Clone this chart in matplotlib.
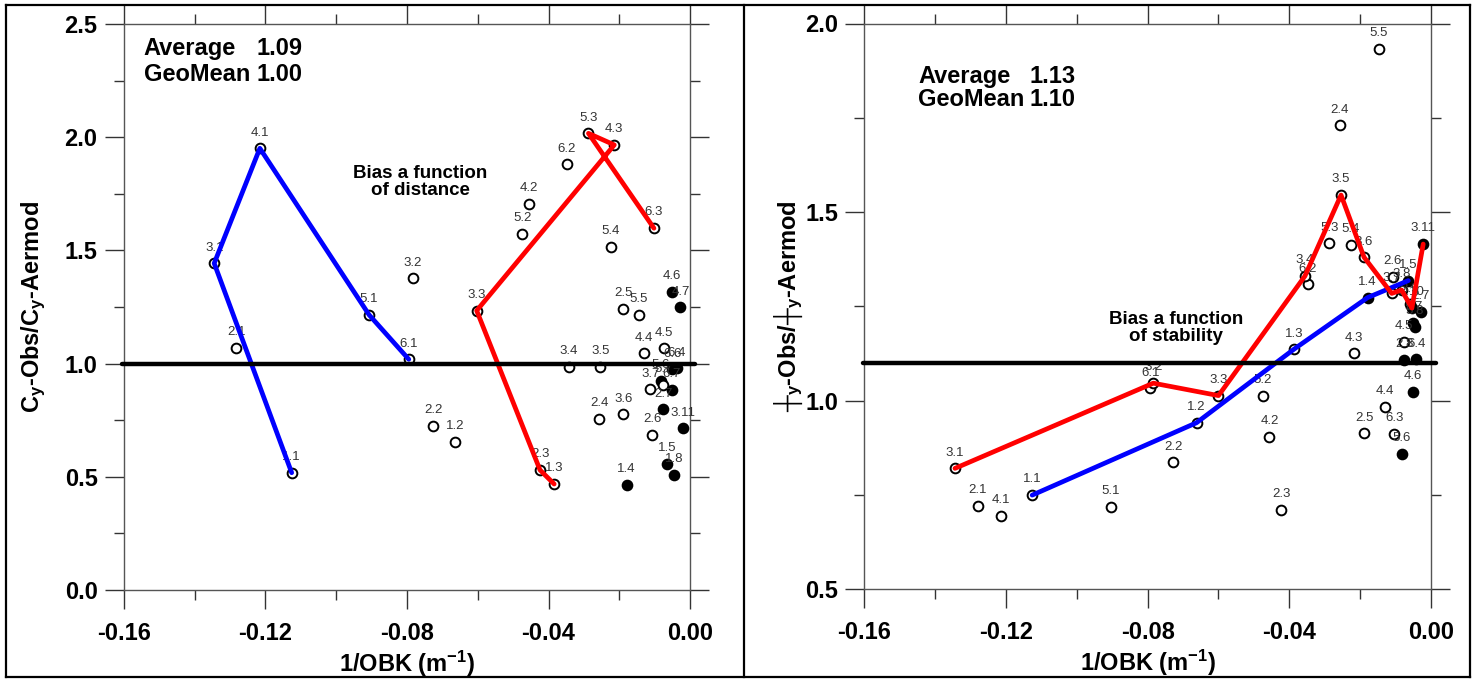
import matplotlib
matplotlib.use("Agg")
import matplotlib.pyplot as plt
from matplotlib.lines import Line2D
from matplotlib.ticker import MultipleLocator, FormatStrFormatter

plt.rcParams['font.family'] = ['Liberation Sans', 'DejaVu Sans']
plt.rcParams['axes.unicode_minus'] = False
plt.rcParams['mathtext.fontset'] = 'custom'
plt.rcParams['mathtext.rm'] = 'Liberation Sans:bold'
plt.rcParams['mathtext.it'] = 'Liberation Sans:bold'
plt.rcParams['mathtext.bf'] = 'Liberation Sans:bold'
plt.rcParams['mathtext.default'] = 'rm'
plt.rcParams['mathtext.fallback'] = 'stixsans'

# ---- distance panel (Cy ratio) ----
dist_ids = ["1.1", "2.1", "3.1", "4.1", "5.1", "6.1",
            "1.2", "2.2", "3.2", "4.2", "5.2", "6.2",
            "1.3", "2.3", "3.3", "4.3", "5.3", "6.3",
            "3.4", "5.4", "2.4", "3.5", "2.5", "5.5", "4.4", "4.5",
            "3.6", "2.6", "3.7", "5.6", "5.7", "6.7", "6.6", "6.4",
            "2.7", "3.11", "1.5", "1.8", "1.4", "4.6", "4.7"]
dist_x = [-0.1126, -0.1283, -0.1345, -0.1216, -0.0907, -0.0795,
          -0.0663, -0.0726, -0.0784, -0.0455, -0.0474, -0.0348,
          -0.0384, -0.0424, -0.0603, -0.0214, -0.0287, -0.0102,
          -0.0343, -0.0224, -0.0256, -0.0254, -0.0189, -0.0145, -0.0129, -0.0074,
          -0.0189, -0.0107, -0.0112, -0.0082, -0.0075, -0.0052, -0.0050, -0.0038,
          -0.0075, -0.0021, -0.0065, -0.0045, -0.0179, -0.0052, -0.0027]
dist_y = [0.518, 1.068, 1.443, 1.951, 1.215, 1.019,
          0.654, 0.724, 1.377, 1.706, 1.572, 1.880,
          0.468, 0.530, 1.234, 1.966, 2.017, 1.598,
          0.986, 1.515, 0.757, 0.986, 1.241, 1.215, 1.045, 1.067,
          0.776, 0.685, 0.886, 0.923, 0.905, 0.883, 0.975, 0.979,
          0.798, 0.714, 0.557, 0.508, 0.464, 1.318, 1.249]
dist_filled = ["5.6", "6.7", "6.6", "6.4", "2.7", "3.11", "1.5", "1.8",
               "1.4", "4.6", "4.7"]
dist_blue = ["1.1", "3.1", "4.1", "5.1", "6.1"]
dist_red = ["1.3", "2.3", "3.3", "4.3", "5.3", "6.3"]
dist_stats = ("1.09", "1.00")

# ---- stability panel (sigma-y ratio) ----
stab_ids = ["1.1", "2.1", "3.1", "4.1", "5.1", "6.1",
            "1.2", "2.2", "3.2", "4.2", "5.2", "6.2",
            "1.3", "2.3", "3.3", "4.3", "5.3", "6.3",
            "3.4", "5.4", "2.4", "3.5", "2.5", "5.5", "4.4", "4.5",
            "3.6", "2.6", "1.4", "1.5", "4.6", "5.6",
            "3.7", "3.8", "3.9", "3.10", "3.11",
            "2.7", "5.7", "5.8", "2.8", "6.4"]
stab_x = [-0.1126, -0.1280, -0.1344, -0.1214, -0.0904, -0.0793,
          -0.0662, -0.0728, -0.0784, -0.0456, -0.0475, -0.0348,
          -0.0387, -0.0423, -0.0600, -0.0217, -0.0287, -0.0104,
          -0.0356, -0.0226, -0.0257, -0.0254, -0.0189, -0.0148, -0.0130, -0.0076,
          -0.0189, -0.0108, -0.0179, -0.0064, -0.0052, -0.0083,
          -0.0111, -0.0083, -0.0060, -0.0054, -0.0022,
          -0.0029, -0.0050, -0.0045, -0.0076, -0.0042]
stab_y = [0.749, 0.720, 0.820, 0.694, 0.718, 1.032,
          0.941, 0.836, 1.046, 0.904, 1.012, 1.308,
          1.136, 0.710, 1.013, 1.125, 1.417, 0.911,
          1.330, 1.412, 1.730, 1.545, 0.913, 1.932, 0.984, 1.156,
          1.380, 1.328, 1.273, 1.318, 1.022, 0.858,
          1.284, 1.293, 1.255, 1.245, 1.415,
          1.236, 1.205, 1.196, 1.107, 1.109]
stab_filled = ["1.4", "1.5", "4.6", "5.6", "3.10", "3.11", "2.7", "5.7",
               "5.8", "2.8", "6.4"]
stab_blue = ["1.1", "1.2", "1.3", "1.4", "1.5"]
stab_red = ["3.1", "3.2", "3.3", "3.4", "3.5", "3.6", "3.7", "3.8",
            "3.9", "3.10", "3.11"]
stab_stats = ("1.13", "1.10")

W, H = 1476, 679
fig = plt.figure(figsize=(W / 100, H / 100), dpi=100)


def px_axes(x0, x1, y0, y1):
    return fig.add_axes([x0 / W, 1 - y1 / H, (x1 - x0) / W, (y1 - y0) / H])


def setup(ax, ylo, yhi):
    ax.set_xlim(-0.16, 0.0)
    ax.set_ylim(ylo, yhi)
    ax.xaxis.set_major_locator(MultipleLocator(0.04))
    ax.xaxis.set_minor_locator(MultipleLocator(0.02))
    ax.yaxis.set_major_locator(MultipleLocator(0.5))
    ax.yaxis.set_minor_locator(MultipleLocator(0.25))
    ax.xaxis.set_major_formatter(FormatStrFormatter('%.2f'))
    ax.yaxis.set_major_formatter(FormatStrFormatter('%.1f'))
    ax.tick_params(which='both', direction='out', top=True, right=True,
                   color='#333333', width=1)
    ax.tick_params(which='major', length=14, labelsize=17)
    ax.tick_params(axis='x', which='major', pad=9)
    ax.tick_params(axis='y', which='major', pad=5)
    ax.tick_params(which='minor', length=7)
    for lab in ax.get_xticklabels() + ax.get_yticklabels():
        lab.set_fontweight('bold')
    for sp in ax.spines.values():
        sp.set_color('#555555')
        sp.set_linewidth(1)
    ax.set_xlabel('1/OBK (m$^{-1}$)', fontsize=17, fontweight='bold',
                  labelpad=3)


def draw(ax, ids, xs, ys, filled, blue, red, ref):
    pos = dict(zip(ids, zip(xs, ys)))
    for name, x, y in zip(ids, xs, ys):
        face = 'black' if name in filled else 'white'
        ax.plot(x, y, 'o', ms=7, mfc=face, mec='black', mew=1.4, zorder=3,
                clip_on=False)
        ax.annotate(name, (x, y), xytext=(0, 7), textcoords='offset points',
                    ha='center', va='bottom', fontsize=9.5, color='#333333',
                    zorder=4)
    for seq, col in ((blue, '#0000ff'), (red, '#ff0000')):
        ax.plot([pos[k][0] for k in seq], [pos[k][1] for k in seq],
                color=col, lw=3.4, zorder=5, solid_capstyle='round')
    ax.plot([-0.1605, 0.0015], [ref, ref], color='black', lw=3.2, zorder=6,
            clip_on=False, solid_capstyle='round')


def stats(ax, vals, x0, x1, y1, y2):
    for lab, val, y in (('Average', vals[0], y1), ('GeoMean', vals[1], y2)):
        ax.text(x0, y, lab, transform=ax.transAxes, fontsize=17,
                fontweight='bold', va='center', ha='left')
        ax.text(x1, y, val, transform=ax.transAxes, fontsize=17,
                fontweight='bold', va='center', ha='left')


ax1 = px_axes(124, 690, 24, 590)
setup(ax1, 0.0, 2.5)
draw(ax1, dist_ids, dist_x, dist_y, dist_filled, dist_blue, dist_red, 1.0)
stats(ax1, dist_stats, 0.035, 0.2345, 0.956, 0.910)
ax1.text(-0.0763, 1.80, 'Bias a function\nof distance', fontsize=13.5,
         fontweight='bold', ha='center', va='center', linespacing=1.0)
ax1.set_ylabel('C$_\\mathrm{y}$-Obs/C$_\\mathrm{y}$-Aermod', fontsize=17,
               fontweight='bold', labelpad=12)

ax2 = px_axes(864.3, 1431, 23.5, 589)
setup(ax2, 0.5, 2.0)
draw(ax2, stab_ids, stab_x, stab_y, stab_filled, stab_blue, stab_red, 1.1)
stats(ax2, stab_stats, 0.0948, 0.292, 0.907, 0.865)
ax2.text(-0.072, 1.192, 'Bias a function\nof stability', fontsize=13.5,
         fontweight='bold', ha='center', va='center', linespacing=1.0)
ax2.set_ylabel('\u253c$_\\mathrm{y}$-Obs/\u253c$_\\mathrm{y}$-Aermod',
               fontsize=17, fontweight='bold', labelpad=0)

# page frame and panel divider
for xs_, ys_ in (([6, 1470], [5, 5]), ([6, 1470], [677, 677]),
                 ([6, 6], [5, 677]), ([1470, 1470], [5, 677]),
                 ([744, 744], [5, 677])):
    fig.add_artist(Line2D([x / W for x in xs_], [1 - y / H for y in ys_],
                          transform=fig.transFigure, color='black', lw=1.6))

fig.savefig('out.png', dpi=100)
